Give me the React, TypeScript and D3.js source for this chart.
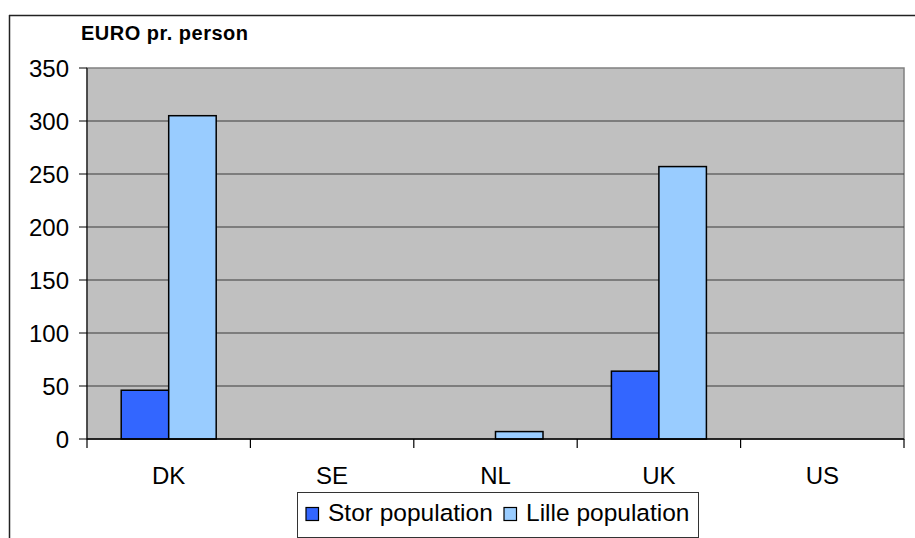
import React from "react";
import * as d3 from "d3";

const categories = ["DK", "SE", "NL", "UK", "US"];
const seriesNames = ["Stor population", "Lille population"];
const storValues = [46, 0, 0, 64, 0];
const lilleValues = [305, 0, 7, 257, 0];
const yTicks = [0, 50, 100, 150, 200, 250, 300, 350];
const colors = ["#3366FF", "#99CCFF"];

export default function App() {
  const W = 915, H = 538;
  const left = 87, right = 904, top = 68, bottom = 439;
  const font = "'Liberation Sans', Arial, sans-serif";

  const x = d3.scaleBand<string>().domain(categories).range([left, right]).padding(0);
  const inner = d3
    .scaleBand<string>()
    .domain(seriesNames)
    .range([0, x.bandwidth()])
    .paddingInner(0)
    .paddingOuter(0.72);
  const y = d3.scaleLinear().domain([0, 350]).range([bottom, top]);

  const series = [storValues, lilleValues];
  const boundaries = [...categories.map((c) => x(c)!), right];

  return (
    <svg width={W} height={H} style={{ position: "absolute", left: 0, top: 0 }}>
      <rect x={0} y={0} width={W} height={H} fill="#fff" />
      {/* outer chart border */}
      <line x1={9.5} y1={15} x2={9.5} y2={H} stroke="#222" strokeWidth={1.5} />
      <line x1={9} y1={15.5} x2={W} y2={15.5} stroke="#222" strokeWidth={1.5} />

      <text x={81} y={40} fontFamily={font} fontWeight="bold" fontSize={20} textLength={167} lengthAdjust="spacing" fill="#000">
        EURO pr. person
      </text>

      {/* plot area */}
      <rect x={left} y={top} width={right - left} height={bottom - top} fill="#C0C0C0" stroke="#808080" strokeWidth={1.5} />

      {/* gridlines */}
      {yTicks.filter((t) => t > 0 && t < 350).map((t) => (
        <line key={t} x1={left} x2={right} y1={y(t)} y2={y(t)} stroke="#3a3a3a" strokeWidth={1} />
      ))}

      {/* bars */}
      {categories.map((c, i) =>
        series.map((vals, s) =>
          vals[i] > 0 ? (
            <rect
              key={c + s}
              x={x(c)! + inner(seriesNames[s])!}
              y={y(vals[i])}
              width={inner.bandwidth()}
              height={y(0) - y(vals[i])}
              fill={colors[s]}
              stroke="#000"
              strokeWidth={1.5}
            />
          ) : null
        )
      )}

      {/* axes */}
      <line x1={left} x2={left} y1={top} y2={bottom} stroke="#000" strokeWidth={1} />
      <line x1={left} x2={right} y1={bottom} y2={bottom} stroke="#000" strokeWidth={1.5} />
      {yTicks.map((t) => (
        <g key={t}>
          <line x1={79} x2={left} y1={y(t)} y2={y(t)} stroke="#000" strokeWidth={1} />
          <text x={69} y={y(t)} dy="0.36em" textAnchor="end" fontFamily={font} fontSize={24} fill="#000">
            {t}
          </text>
        </g>
      ))}
      {boundaries.map((b, i) => (
        <line key={i} x1={b} x2={b} y1={bottom} y2={448} stroke="#000" strokeWidth={1.2} />
      ))}
      {categories.map((c) => (
        <text key={c} x={x(c)! + x.bandwidth() / 2} y={484} textAnchor="middle" fontFamily={font} fontSize={24} fill="#000">
          {c}
        </text>
      ))}

      {/* legend */}
      <rect x={297.5} y={492.5} width={401} height={45} fill="#fff" stroke="#333" strokeWidth={1} />
      <rect x={306} y={507.5} width={12.5} height={13} fill={colors[0]} stroke="#000" strokeWidth={1.2} />
      <text x={328} y={521} fontFamily={font} fontSize={24.5} fill="#000">{seriesNames[0]}</text>
      <rect x={504} y={507.5} width={12.5} height={13} fill={colors[1]} stroke="#000" strokeWidth={1.2} />
      <text x={526} y={521} fontFamily={font} fontSize={24.5} fill="#000">{seriesNames[1]}</text>
    </svg>
  );
}
